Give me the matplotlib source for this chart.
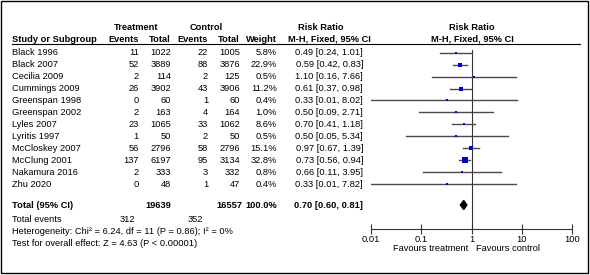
import numpy as np
import matplotlib.pyplot as plt
import matplotlib.font_manager as fm
from matplotlib.patches import Rectangle, Polygon

# Dane badań
studies = ['Black 1996', 'Black 2007', 'Cecilia 2009', 'Cummings 2009', 'Greenspan 1998',
           'Greenspan 2002', 'Lyles 2007', 'Lyritis 1997', 'McCloskey 2007', 'McClung 2001',
           'Nakamura 2016', 'Zhu 2020']
trt_events = [11, 52, 2, 26, 0, 2, 23, 1, 56, 137, 2, 0]
trt_total = [1022, 3889, 114, 3902, 60, 163, 1065, 50, 2796, 6197, 333, 48]
ctl_events = [22, 88, 2, 43, 1, 4, 33, 2, 58, 95, 3, 1]
ctl_total = [1005, 3876, 125, 3906, 60, 164, 1062, 50, 2796, 3134, 332, 47]
weight = [5.8, 22.9, 0.5, 11.2, 0.4, 1.0, 8.6, 0.5, 15.1, 32.8, 0.8, 0.4]
rr = [0.49, 0.59, 1.10, 0.61, 0.33, 0.50, 0.70, 0.50, 0.97, 0.73, 0.66, 0.33]
rr_lo = [0.24, 0.42, 0.16, 0.37, 0.01, 0.09, 0.41, 0.05, 0.67, 0.56, 0.11, 0.01]
rr_hi = [1.01, 0.83, 7.66, 0.98, 8.02, 2.71, 1.18, 5.34, 1.39, 0.94, 3.95, 7.82]

total_trt = 19639
total_ctl = 16557
total_events_trt = 312
total_events_ctl = 352
total_rr = 0.70
total_lo = 0.60
total_hi = 0.81

axis_ticks = [0.01, 0.1, 1, 10, 100]
axis_labels = ['0.01', '0.1', '1', '10', '100']

FS = 6.7


def find_font(bold):
    # szukamy zwykłej (nie Narrow) czcionki Liberation Sans
    for f in fm.fontManager.ttflist:
        if f.name == 'Liberation Sans' and 'narrow' not in f.fname.lower() and f.style == 'normal':
            is_bold = f.weight in ('bold', 700, '700')
            if is_bold == bold:
                return fm.FontProperties(fname=f.fname, size=FS)
    return fm.FontProperties(family='DejaVu Sans', size=FS - 0.5,
                             weight='bold' if bold else 'normal')


fp = find_font(False)
fpb = find_font(True)

W, H = 590, 275
fig = plt.figure(figsize=(W / 100, H / 100), dpi=100)

# Tło w pikselach - tabela tekstowa
bg = fig.add_axes([0, 0, 1, 1])
bg.set_xlim(0, W)
bg.set_ylim(H, 0)
bg.axis('off')
bg.add_patch(Rectangle((0.5, 0.5), 587, 272.5, fill=False, edgecolor='black', lw=1))


def txt(x, y, s, ha='left', bold=False):
    bg.text(x, y, s, ha=ha, va='center', fontproperties=fpb if bold else fp)


row_y = [52.7 + 11.94 * i for i in range(len(studies))]
y_total = 205

# Nagłówki
txt(136.5, 27, 'Treatment', 'center', True)
txt(206, 27, 'Control', 'center', True)
txt(321, 27, 'Risk Ratio', 'center', True)
txt(472, 27, 'Risk Ratio', 'center', True)
txt(12, 39, 'Study or Subgroup', 'left', True)
for x, s in [(139, 'Events'), (171, 'Total'), (208, 'Events'), (240, 'Total'), (277, 'Weight')]:
    txt(x, 39, s, 'right', True)
txt(329, 39, 'M-H, Fixed, 95% CI', 'center', True)
txt(472, 39, 'M-H, Fixed, 95% CI', 'center', True)
bg.plot([12, 580], [43.5, 43.5], color='black', lw=0.8)

# Wiersze badań
for i, y in enumerate(row_y):
    txt(12, y, studies[i])
    txt(139, y, str(trt_events[i]), 'right')
    txt(171, y, str(trt_total[i]), 'right')
    txt(208, y, str(ctl_events[i]), 'right')
    txt(240, y, str(ctl_total[i]), 'right')
    txt(277, y, '%.1f%%' % weight[i], 'right')
    txt(363, y, '%.2f [%.2f, %.2f]' % (rr[i], rr_lo[i], rr_hi[i]), 'right')

# Podsumowanie
txt(12, y_total, 'Total (95% CI)', 'left', True)
txt(171, y_total, str(total_trt), 'right', True)
txt(242, y_total, str(total_ctl), 'right', True)
txt(277, y_total, '%.1f%%' % sum(weight), 'right', True)
txt(363, y_total, '%.2f [%.2f, %.2f]' % (total_rr, total_lo, total_hi), 'right', True)
txt(12, 220, 'Total events')
txt(135, 220, str(total_events_trt), 'right')
txt(203, 220, str(total_events_ctl), 'right')
txt(12, 232, 'Heterogeneity: Chi\u00b2 = 6.24, df = 11 (P = 0.86); I\u00b2 = 0%')
txt(12, 243, 'Test for overall effect: Z = 4.63 (P < 0.00001)')
txt(468, 248.5, 'Favours treatment', 'right')
txt(476, 248.5, 'Favours control', 'left')

# Wykres lasu
y_top, y_axis = 43.5, 229.3
x0, x1 = 371, 572
ax = fig.add_axes([x0 / W, (H - y_axis) / H, (x1 - x0) / W, (y_axis - y_top) / H])
ax.set_xscale('log')
ax.set_xlim(0.01, 100)
ax.set_ylim(y_axis, y_top)
ax.patch.set_alpha(0)
for side in ['top', 'left', 'right']:
    ax.spines[side].set_visible(False)
ax.spines['bottom'].set_linewidth(0.8)
ax.spines['bottom'].set_color('#333333')
ax.set_yticks([])
ax.set_xticks(axis_ticks)
ax.set_xticklabels(axis_labels, fontproperties=fp)
ax.minorticks_off()
ax.tick_params(axis='x', direction='inout', length=7, width=0.8, color='#333333', pad=0.3)

ax.plot([1, 1], [50, y_axis], color='#333333', lw=0.8)
for i, y in enumerate(row_y):
    ax.plot([rr_lo[i], rr_hi[i]], [y, y], color='#4a4a4a', lw=1)
    ms = max(0.7 * np.sqrt(weight[i]), 1.5)
    ax.plot(rr[i], y, marker='s', color='#0000CC', markersize=ms, markeredgewidth=0)

dh = 4.5
ax.add_patch(Polygon([(total_lo, y_total), (total_rr, y_total - dh), (total_hi, y_total),
                      (total_rr, y_total + dh)], closed=True, color='black'))

fig.savefig('out.png', dpi=100)
